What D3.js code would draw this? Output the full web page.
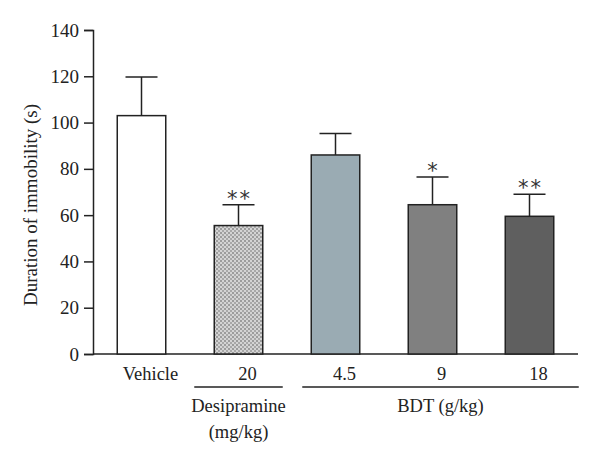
<!DOCTYPE html>
<html><head><meta charset="utf-8">
<script src="https://cdn.jsdelivr.net/npm/d3@7"></script>
<style>body{margin:0;background:#fff}</style>
</head><body>
<svg id="c" width="600" height="461"></svg>
<script>
const categories = ["Vehicle","20","4.5","9","18"];
const means = [103, 55.5, 86, 64.5, 59.5];
const errors = [16.7, 9, 9.3, 12, 9.5];
const stars = ["", "**", "", "*", "**"];
const fills = ["#ffffff", "url(#dots)", "#9aabb3", "#808080", "#5f5f5f"];
const yTicks = [0,20,40,60,80,100,120,140];
const groups = [
  {label:["Desipramine","(mg/kg)"], from:1, to:1},
  {label:["BDT (g/kg)"], from:2, to:4}
];
const yTitle = "Duration of immobility (s)";

const svg = d3.select("#c");
const font = "'Liberation Serif', 'DejaVu Serif', serif";
const defs = svg.append("defs");
const pat = defs.append("pattern").attr("id","dots").attr("width",4).attr("height",4).attr("patternUnits","userSpaceOnUse");
pat.append("rect").attr("width",4).attr("height",4).attr("fill","#d4d4d4");
pat.append("rect").attr("x",0).attr("y",0).attr("width",2).attr("height",2).attr("fill","#9c9c9c");
pat.append("rect").attr("x",2).attr("y",2).attr("width",2).attr("height",2).attr("fill","#a8a8a8");

const x0 = 93, x1 = 578, yTop = 30, yBot = 354;
const x = d3.scaleBand().domain(categories).range([x0,x1]).paddingInner(0.5).paddingOuter(0.25);
const y = d3.scaleLinear().domain([0,140]).range([yBot,yTop]);

const yAxis = d3.axisLeft(y).tickValues(yTicks).tickSize(9).tickPadding(5);
const gy = svg.append("g").attr("transform",`translate(${x0},0)`).call(yAxis);
gy.select(".domain").attr("stroke","#222").attr("stroke-width",1.5);
gy.selectAll(".tick line").attr("stroke","#222").attr("stroke-width",1.5);
gy.selectAll(".tick text").attr("font-family",font).attr("font-size",19).attr("fill","#222");

// baseline
svg.append("line").attr("x1",x0).attr("x2",x1).attr("y1",yBot).attr("y2",yBot).attr("stroke","#222").attr("stroke-width",1.5);

const data = categories.map((c,i)=>({c,m:means[i],e:errors[i],s:stars[i],f:fills[i]}));
const bw = x.bandwidth();

// error bars
const eb = svg.append("g");
data.forEach(d=>{
  const cx = x(d.c)+bw/2;
  eb.append("line").attr("x1",cx).attr("x2",cx).attr("y1",y(d.m)).attr("y2",y(d.m+d.e)).attr("stroke","#222").attr("stroke-width",1.5);
  eb.append("line").attr("x1",cx-16).attr("x2",cx+16).attr("y1",y(d.m+d.e)).attr("y2",y(d.m+d.e)).attr("stroke","#222").attr("stroke-width",1.5);
  if(d.s) eb.append("text").attr("x",cx+1).attr("y",y(d.m+d.e)+1).attr("text-anchor","middle")
    .attr("font-family","'DejaVu Sans', sans-serif").attr("font-size",21).attr("fill","#333").attr("letter-spacing",2).text(d.s);
});

svg.append("g").selectAll("rect").data(data).join("rect")
  .attr("x",d=>x(d.c)).attr("width",bw)
  .attr("y",d=>y(d.m)).attr("height",d=>yBot-y(d.m))
  .attr("fill",d=>d.f).attr("stroke","#222").attr("stroke-width",1.5);

// category labels
svg.append("g").selectAll("text").data(categories).join("text")
  .attr("x",d=>x(d)+bw/2+9).attr("y",380).attr("text-anchor","middle")
  .attr("font-family",font).attr("font-size",18.5).attr("fill","#222").text(d=>d);

// group lines and labels
groups.forEach((g,i)=>{
  const a = x(categories[g.from]) - (i===0?20:9);
  const b = x(categories[g.to]) + bw + (i===0?20:25);
  svg.append("line").attr("x1",a).attr("x2",b).attr("y1",387).attr("y2",387).attr("stroke","#222").attr("stroke-width",1.5);
  const cx = (a+b)/2;
  g.label.forEach((t,j)=>{
    svg.append("text").attr("x",cx).attr("y",412+j*26).attr("text-anchor","middle")
      .attr("font-family",font).attr("font-size",18.5).attr("fill","#222").text(t);
  });
});

svg.append("text").attr("transform",`translate(37,205) rotate(-90)`)
  .attr("text-anchor","middle").attr("font-family",font).attr("font-size",19).attr("fill","#222").text(yTitle);
</script>
</body></html>
